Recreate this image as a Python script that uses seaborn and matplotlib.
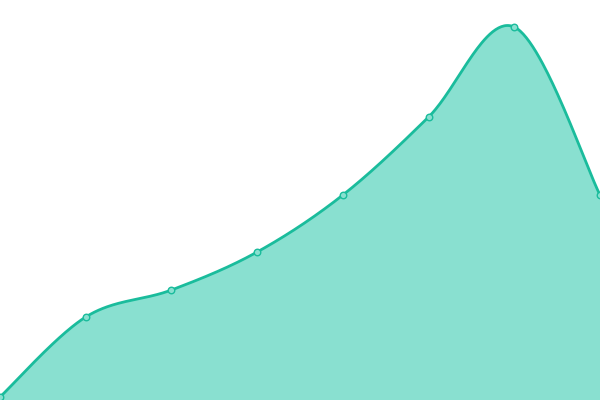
import numpy as np
import pandas as pd
import seaborn as sns
import matplotlib
matplotlib.use("Agg")
import matplotlib.pyplot as plt

# values
x_pos = [0, 1, 2, 3, 4, 5, 6, 7]
values = [3, 83, 110, 148, 205, 283, 373, 205]

line_color = "#1abc9c"
fill_color = "#89e0d0"


def catmull_rom(xs, ys, n=60):
    # smooth curve through the points (uniform catmull-rom)
    xs = np.asarray(xs, float)
    ys = np.asarray(ys, float)
    px = np.concatenate([[xs[0]], xs, [xs[-1]]])
    py = np.concatenate([[ys[0]], ys, [ys[-1]]])
    outx, outy = [], []
    for i in range(1, len(px) - 2):
        t = np.linspace(0, 1, n, endpoint=False)
        mx0 = (px[i + 1] - px[i - 1]) / 2
        mx1 = (px[i + 2] - px[i]) / 2
        my0 = (py[i + 1] - py[i - 1]) / 2
        my1 = (py[i + 2] - py[i]) / 2
        h00 = 2 * t**3 - 3 * t**2 + 1
        h10 = t**3 - 2 * t**2 + t
        h01 = -2 * t**3 + 3 * t**2
        h11 = t**3 - t**2
        outx.append(h00 * px[i] + h10 * mx0 + h01 * px[i + 1] + h11 * mx1)
        outy.append(h00 * py[i] + h10 * my0 + h01 * py[i + 1] + h11 * my1)
    outx.append([xs[-1]])
    outy.append([ys[-1]])
    return np.concatenate(outx), np.concatenate(outy)


sx, sy = catmull_rom(x_pos, values)
smooth = pd.DataFrame({"x": sx, "y": sy})
pts = pd.DataFrame({"x": x_pos, "y": values})

fig = plt.figure(figsize=(6, 4), dpi=100)
ax = fig.add_axes([0, 0, 1, 1])

ax.fill_between(smooth["x"], 0, smooth["y"], color=fill_color, linewidth=0)
sns.lineplot(data=smooth, x="x", y="y", ax=ax, color=line_color, linewidth=2, sort=False)
sns.scatterplot(data=pts, x="x", y="y", ax=ax, s=22, color=fill_color,
                edgecolor=line_color, linewidth=1, zorder=5, clip_on=False)

ax.set_xlim(0, 7)
ax.set_ylim(0, 400)
ax.axis("off")

fig.savefig("out.png", dpi=100)
